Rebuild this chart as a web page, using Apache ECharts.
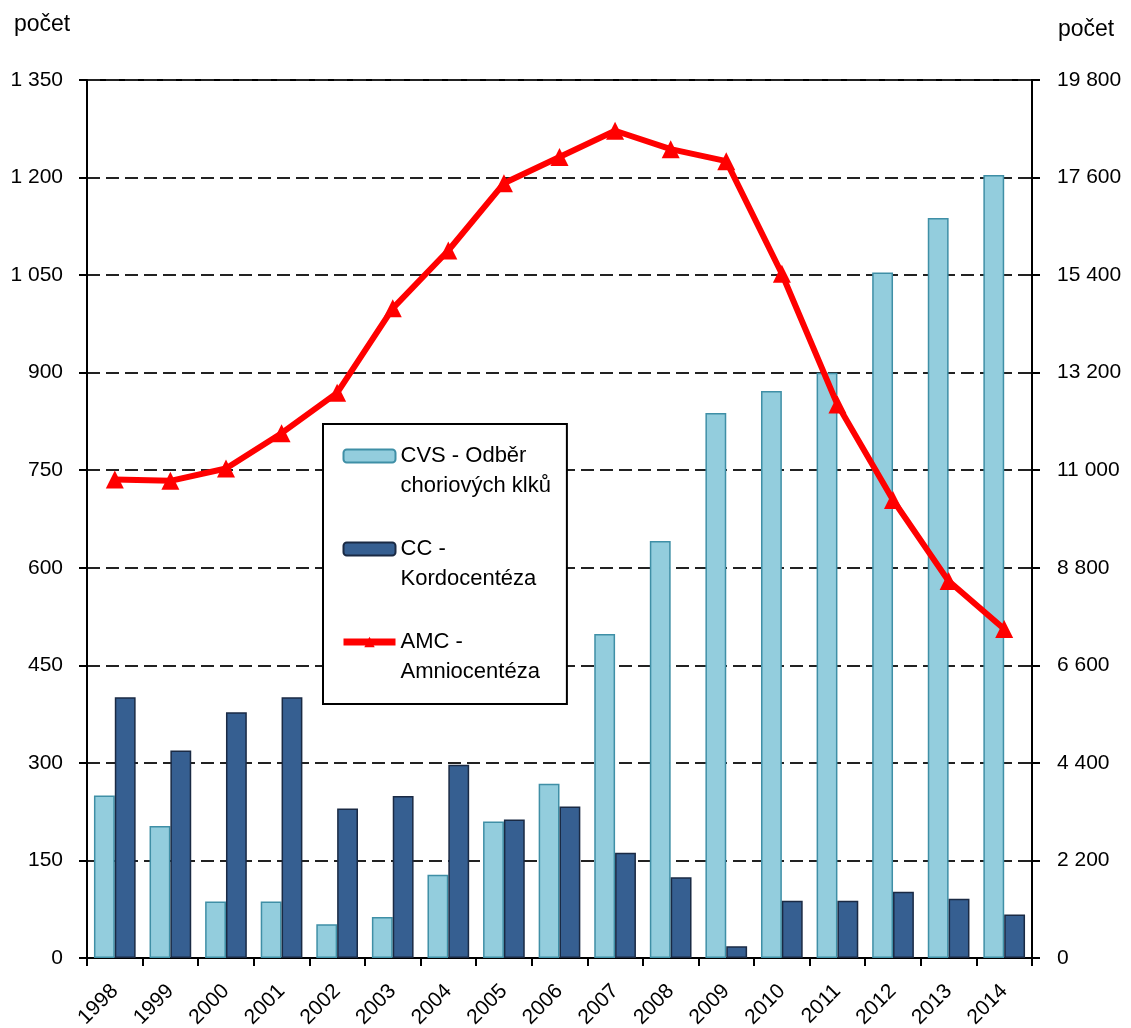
<!DOCTYPE html>
<html>
<head>
<meta charset="utf-8">
<script src="https://cdn.jsdelivr.net/npm/echarts@6/dist/echarts.min.js"></script>
<style>
html, body { margin: 0; padding: 0; background: #fff; }
#chart { width: 1131px; height: 1028px; }
</style>
</head>
<body>
<div id="chart"></div>
<script>
// data
var years = ['1998', '1999', '2000', '2001', '2002', '2003', '2004', '2005', '2006',
  '2007', '2008', '2009', '2010', '2011', '2012', '2013', '2014']
var cvsValues = [250, 203, 87, 87, 52, 63, 128, 210, 268, 498, 641, 838, 872, 900, 1054, 1138, 1204]
var ccValues = [401, 319, 378, 401, 230, 249, 297, 213, 233, 162, 124, 18, 88, 88, 102, 91, 67]
var amcValues = [10790, 10760, 11040, 11835, 12745, 14650, 15955, 17470, 18065,
  18655, 18240, 17970, 15430, 12480, 10330, 8500, 7420]
var leftAxis = { min: 0, max: 1350, interval: 150 }
var rightAxis = { min: 0, max: 19800, interval: 2200 }
var seriesNames = ['CVS - Odběr\nchoriových klků', 'CC -\nKordocentéza', 'AMC -\nAmniocentéza']
var axisTitle = 'počet'

var font = '"Liberation Sans", Arial, sans-serif'

function spaced(v) {
  return String(v).replace(/\B(?=(\d{3})+(?!\d))/g, ' ')
}

var chart = echarts.init(document.getElementById('chart'))

var axisLine = { show: true, lineStyle: { color: '#000', width: 2 } }
var axisTick = { show: true, length: 8, lineStyle: { color: '#000', width: 2 } }

var option = {
  animation: false,
  backgroundColor: '#fff',
  grid: {
    left: 87,
    right: 99,
    top: 80,
    bottom: 70,
    outerBoundsMode: 'none',
    show: true,
    borderColor: '#000',
    borderWidth: 2
  },
  graphic: [
    {
      type: 'text',
      left: 14,
      top: 13,
      style: { text: axisTitle, fontSize: 23, fontFamily: font, fill: '#000' }
    },
    {
      type: 'text',
      left: 1058,
      top: 18,
      style: { text: axisTitle, fontSize: 23, fontFamily: font, fill: '#000' }
    }
  ],
  legend: {
    orient: 'vertical',
    left: 323,
    top: 424,
    itemWidth: 52,
    itemHeight: 13,
    itemGap: 3,
    padding: [-13, 16, 17, 17],
    backgroundColor: '#fff',
    borderColor: '#000',
    borderWidth: 2,
    // blank first line keeps the icon level with the first line of text
    formatter: function (name) { return ' \n' + name },
    textStyle: {
      fontSize: 22,
      lineHeight: 30,
      fontFamily: font,
      color: '#000'
    },
    data: [
      { name: seriesNames[0] },
      { name: seriesNames[1] },
      { name: seriesNames[2], lineStyle: { width: 7 } }
    ]
  },
  xAxis: {
    type: 'category',
    data: years,
    axisLine: axisLine,
    axisTick: axisTick,
    axisLabel: {
      interval: 0,
      rotate: 45,
      margin: 30,
      fontSize: 21,
      fontFamily: font,
      color: '#000'
    },
    splitLine: { show: false }
  },
  yAxis: [
    {
      type: 'value',
      min: leftAxis.min,
      max: leftAxis.max,
      interval: leftAxis.interval,
      axisLine: axisLine,
      axisTick: axisTick,
      axisLabel: {
        margin: 24,
        fontSize: 21,
        fontFamily: font,
        color: '#000',
        formatter: spaced
      },
      splitLine: {
        show: true,
        lineStyle: { color: '#222', width: 2, type: [13, 6] }
      }
    },
    {
      type: 'value',
      position: 'right',
      min: rightAxis.min,
      max: rightAxis.max,
      interval: rightAxis.interval,
      axisLine: axisLine,
      axisTick: axisTick,
      axisLabel: {
        margin: 25,
        fontSize: 21,
        fontFamily: font,
        color: '#000',
        formatter: spaced
      },
      splitLine: { show: false }
    }
  ],
  series: [
    {
      name: seriesNames[0],
      type: 'bar',
      data: cvsValues,
      barGap: '0%',
      barCategoryGap: '25%',
      itemStyle: { color: '#93CDDD', borderColor: '#3F8FA6', borderWidth: 1.5 }
    },
    {
      name: seriesNames[1],
      type: 'bar',
      data: ccValues,
      itemStyle: { color: '#365F91', borderColor: '#1A2A44', borderWidth: 1.5 }
    },
    {
      name: seriesNames[2],
      type: 'line',
      yAxisIndex: 1,
      data: amcValues,
      z: 5,
      symbol: 'triangle',
      symbolSize: 18,
      lineStyle: { color: '#FF0000', width: 6 },
      itemStyle: { color: '#FF0000' }
    }
  ]
}

chart.setOption(option)
</script>
</body>
</html>
